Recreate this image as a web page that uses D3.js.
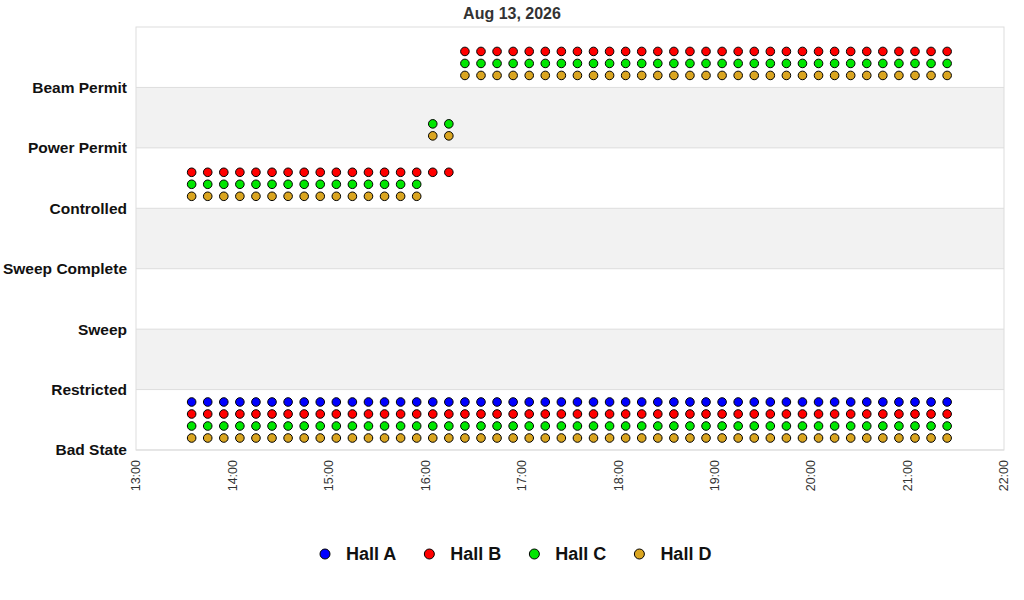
<!DOCTYPE html>
<html lang="en">
<head>
  <meta charset="UTF-8" />
  <title>Hall Status</title>
  <script src="https://d3js.org/d3.v7.min.js"></script>
  <style>
    body {
      background-color: white;
      margin: 0;
      font-family: "Liberation Sans", Arial, sans-serif;
    }

    svg {
      display: block;
    }

    .title {
      font-size: 16px;
      font-weight: bold;
      fill: #333;
    }

    .state-label {
      font-size: 15.5px;
      font-weight: bold;
      fill: #111;
    }

    .tick-label {
      font-size: 12.5px;
      fill: #333;
    }

    .legend text {
      font-size: 18px;
      font-weight: bold;
      fill: #111;
    }
  </style>
</head>
<body>
  <svg></svg>

  <script>
    // categories on the y axis, bottom to top
    const states = ["Bad State", "Restricted", "Sweep", "Sweep Complete",
                    "Controlled", "Power Permit", "Beam Permit"];

    const halls = ["Hall A", "Hall B", "Hall C", "Hall D"];
    const hallColors = ["#0000ff", "#ff0000", "#00e600", "#daa520"];

    const tickLabels = ["13:00", "14:00", "15:00", "16:00", "17:00",
                        "18:00", "19:00", "20:00", "21:00", "22:00"];

    // sample times (every 10 minutes)
    const times = [
      "13:34", "13:44", "13:54", "14:04", "14:14", "14:24", "14:34", "14:44",
      "14:54", "15:04", "15:14", "15:24", "15:34", "15:44", "15:54", "16:04",
      "16:14", "16:24", "16:34", "16:44", "16:54", "17:04", "17:14", "17:24",
      "17:34", "17:44", "17:54", "18:04", "18:14", "18:24", "18:34", "18:44",
      "18:54", "19:04", "19:14", "19:24", "19:34", "19:44", "19:54", "20:04",
      "20:14", "20:24", "20:34", "20:44", "20:54", "21:04", "21:14", "21:24"
    ];

    // state runs per hall: [state, first time, last time]
    const hallA = [["Bad State", "13:34", "21:24"]];
    const hallB = [["Bad State", "13:34", "21:24"],
                   ["Controlled", "13:34", "16:14"],
                   ["Beam Permit", "16:24", "21:24"]];
    const hallC = [["Bad State", "13:34", "21:24"],
                   ["Controlled", "13:34", "15:54"],
                   ["Power Permit", "16:04", "16:14"],
                   ["Beam Permit", "16:24", "21:24"]];
    const hallD = [["Bad State", "13:34", "21:24"],
                   ["Controlled", "13:34", "15:54"],
                   ["Power Permit", "16:04", "16:14"],
                   ["Beam Permit", "16:24", "21:24"]];
    const hallRuns = [hallA, hallB, hallC, hallD];

    const width = 1024;
    const height = 600;
    const margin = { top: 27, right: 20, bottom: 150, left: 136 };
    const plotW = width - margin.left - margin.right;
    const plotH = height - margin.top - margin.bottom;

    const parse = d3.timeParse("%H:%M");

    const svg = d3.select("svg")
      .attr("width", width)
      .attr("height", height);

    const x = d3.scaleTime()
      .domain([parse(tickLabels[0]), parse(tickLabels[tickLabels.length - 1])])
      .range([margin.left, margin.left + plotW]);

    // one spare step above the top category
    const y = d3.scaleLinear()
      .domain([0, states.length])
      .range([margin.top + plotH, margin.top]);

    // alternating bands
    svg.append("g")
      .selectAll("rect")
      .data(d3.range(1, states.length - 1, 2))
      .enter().append("rect")
      .attr("x", margin.left)
      .attr("width", plotW)
      .attr("y", d => y(d + 1))
      .attr("height", d => y(d) - y(d + 1))
      .attr("fill", "#f2f2f2");

    // grid lines at each state
    svg.append("g")
      .selectAll("line")
      .data(states)
      .enter().append("line")
      .attr("x1", margin.left)
      .attr("x2", margin.left + plotW)
      .attr("y1", (d, i) => y(i))
      .attr("y2", (d, i) => y(i))
      .attr("stroke", "#dddddd");

    svg.append("rect")
      .attr("x", margin.left)
      .attr("y", margin.top)
      .attr("width", plotW)
      .attr("height", plotH)
      .attr("fill", "none")
      .attr("stroke", "#dddddd");

    // state labels
    svg.append("g")
      .selectAll("text")
      .data(states)
      .enter().append("text")
      .attr("class", "state-label")
      .attr("x", margin.left - 9)
      .attr("y", (d, i) => y(i))
      .attr("dy", "0.35em")
      .attr("text-anchor", "end")
      .text(d => d);

    // time labels, rotated
    svg.append("g")
      .selectAll("text")
      .data(tickLabels)
      .enter().append("text")
      .attr("class", "tick-label")
      .attr("transform", d => `translate(${x(parse(d))},${margin.top + plotH + 10}) rotate(-90)`)
      .attr("dy", "0.35em")
      .attr("text-anchor", "end")
      .text(d => d);

    // title
    svg.append("text")
      .attr("class", "title")
      .attr("x", width / 2)
      .attr("y", 19)
      .attr("text-anchor", "middle")
      .text("Aug 13, 2026");

    // expand runs into points
    const points = [];
    hallRuns.forEach((runs, h) => {
      runs.forEach(([state, from, to]) => {
        times.filter(t => t >= from && t <= to).forEach(t => {
          points.push({ hall: h, state: states.indexOf(state), time: parse(t) });
        });
      });
    });

    const step = 12;
    svg.append("g")
      .selectAll("circle")
      .data(points)
      .enter().append("circle")
      .attr("cx", d => x(d.time) + 1)
      .attr("cy", d => y(d.state) - step * (halls.length - d.hall))
      .attr("r", 4.3)
      .attr("fill", d => hallColors[d.hall])
      .attr("stroke", "#000")
      .attr("stroke-width", 1);

    // legend
    const legend = svg.append("g").attr("class", "legend");
    let lx = 0;
    halls.forEach((name, i) => {
      const item = legend.append("g").attr("transform", `translate(${lx},0)`);
      item.append("circle")
        .attr("cx", 5)
        .attr("cy", 0)
        .attr("r", 5)
        .attr("fill", hallColors[i])
        .attr("stroke", "#000");
      const label = item.append("text")
        .attr("x", 26)
        .attr("dy", "0.35em")
        .text(name);
      lx += 26 + label.node().getComputedTextLength() + 28;
    });
    legend.attr("transform", "translate(320,554)");
  </script>
</body>
</html>
